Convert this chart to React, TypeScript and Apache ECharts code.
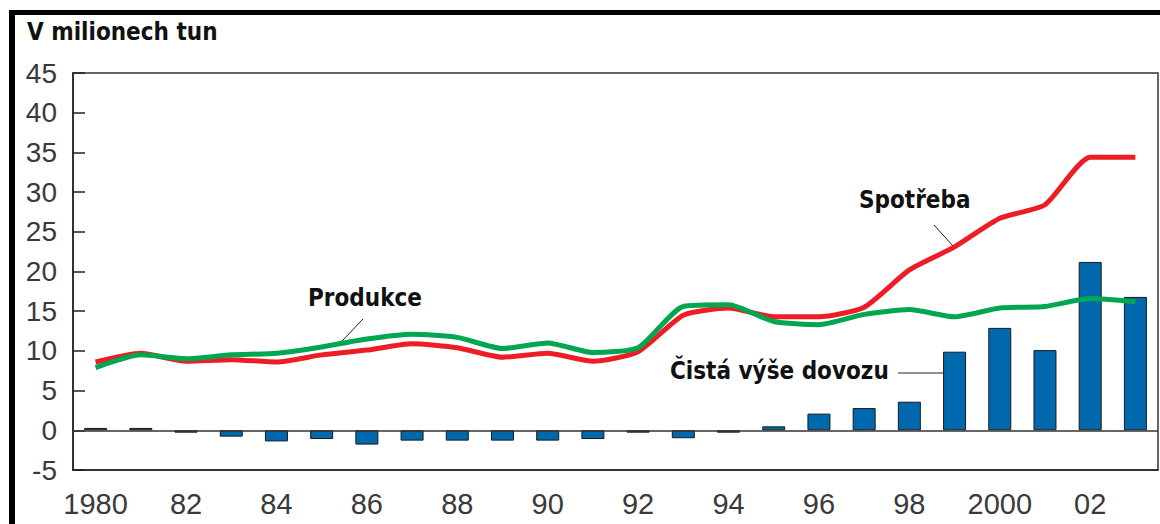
import React, { useEffect, useRef } from "react";
import * as echarts from "echarts";

const years = [
  "1980", "1981", "1982", "1983", "1984", "1985", "1986", "1987", "1988", "1989", "1990", "1991",
  "1992", "1993", "1994", "1995", "1996", "1997", "1998", "1999", "2000", "2001", "2002", "2003",
];
const xTickLabels = [
  "1980", "", "82", "", "84", "", "86", "", "88", "", "90", "",
  "92", "", "94", "", "96", "", "98", "", "2000", "", "02", "",
];
const spotreba = [
  8.6, 9.7, 8.7, 8.9, 8.6, 9.5, 10.1, 10.9, 10.4, 9.2, 9.7, 8.7,
  9.9, 14.5, 15.4, 14.3, 14.3, 15.5, 20.2, 23.1, 26.7, 28.4, 34.4, 34.4,
];
const produkce = [
  7.9, 9.5, 9.0, 9.5, 9.7, 10.5, 11.5, 12.1, 11.7, 10.3, 11.0, 9.8,
  10.4, 15.6, 15.8, 13.7, 13.3, 14.6, 15.2, 14.3, 15.4, 15.6, 16.6, 16.2,
];
const dovoz = [
  0.3, 0.3, -0.3, -0.8, -1.4, -1.1, -1.8, -1.3, -1.3, -1.3, -1.3, -1.1,
  -0.3, -1.0, -0.3, 0.5, 2.1, 2.8, 3.6, 9.9, 12.9, 10.1, 21.2, 16.8,
];
const yMin = -5;
const yMax = 45;
const yStep = 5;

const titleText = "V milionech tun";
const labelProdukce = "Produkce";
const labelSpotreba = "Spotřeba";
const labelDovoz = "Čistá výše dovozu";

const boldFont = "'Liberation Sans Narrow', 'DejaVu Sans Condensed', 'Liberation Sans', sans-serif";
const tickFont = "'Liberation Sans', Arial, sans-serif";

export default function App() {
  const ref = useRef<HTMLDivElement>(null);
  useEffect(() => {
    if (!ref.current) return;
    const chart = echarts.init(ref.current, null, { renderer: "svg" });
    chart.setOption({
      animation: false,
      backgroundColor: "#ffffff",
      grid: {
        left: 73,
        top: 73,
        right: 2,
        bottom: 54,
        show: true,
        borderColor: "#333",
        borderWidth: 1.5,
        backgroundColor: "transparent",
      },
      xAxis: {
        type: "category",
        data: years,
        boundaryGap: true,
        axisLine: { onZero: false, lineStyle: { color: "#222", width: 1.5 } },
        axisTick: { alignWithLabel: true, length: 15, lineStyle: { color: "#222", width: 1.5 } },
        axisLabel: {
          interval: 0,
          margin: 19,
          color: "#3a3a3a",
          fontFamily: tickFont,
          fontSize: 29,
          formatter: (_v: string, i: number) => xTickLabels[i],
        },
        splitLine: { show: false },
      },
      yAxis: {
        type: "value",
        min: yMin,
        max: yMax,
        interval: yStep,
        axisLine: { show: true, lineStyle: { color: "#222", width: 1.5 } },
        axisTick: { show: true, inside: true, length: 12, lineStyle: { color: "#222", width: 1.5 } },
        axisLabel: {
          margin: 16,
          color: "#3a3a3a",
          fontFamily: tickFont,
          fontSize: 28,
        },
        splitLine: { show: false },
      },
      series: [
        {
          type: "bar",
          name: labelDovoz,
          data: dovoz,
          barWidth: 23,
          itemStyle: { color: "#0068ad", borderColor: "#1a1a1a", borderWidth: 1 },
          markLine: {
            silent: true,
            symbol: "none",
            label: { show: false },
            lineStyle: { color: "#333", width: 1.5, type: "solid" },
            data: [{ yAxis: 0 }],
          },
          z: 2,
        },
        {
          type: "line",
          name: labelSpotreba,
          data: spotreba,
          smooth: 0.2,
          symbol: "none",
          lineStyle: { color: "#ee1c25", width: 5 },
          z: 3,
        },
        {
          type: "line",
          name: labelProdukce,
          data: produkce,
          smooth: 0.2,
          symbol: "none",
          lineStyle: { color: "#00a650", width: 5 },
          z: 4,
        },
      ],
      graphic: [
        { type: "rect", shape: { x: 9, y: 10, width: 1151, height: 5 }, style: { fill: "#000" }, z: 10 },
        { type: "rect", shape: { x: 9, y: 10, width: 6, height: 514 }, style: { fill: "#000" }, z: 10 },
        {
          type: "text",
          x: 27,
          y: 32,
          style: { text: titleText, font: `bold 24px ${boldFont}`, fill: "#111", verticalAlign: "middle", align: "left" },
          z: 10,
        },
        {
          type: "text",
          x: 308,
          y: 298,
          style: { text: labelProdukce, font: `bold 24px ${boldFont}`, fill: "#111", verticalAlign: "middle", align: "left" },
          z: 10,
        },
        { type: "line", shape: { x1: 363, y1: 319, x2: 342, y2: 341 }, style: { stroke: "#222", lineWidth: 1 }, z: 10 },
        {
          type: "text",
          x: 859,
          y: 200,
          style: { text: labelSpotreba, font: `bold 24px ${boldFont}`, fill: "#111", verticalAlign: "middle", align: "left" },
          z: 10,
        },
        { type: "line", shape: { x1: 934, y1: 225, x2: 953, y2: 246 }, style: { stroke: "#222", lineWidth: 1 }, z: 10 },
        {
          type: "text",
          x: 670,
          y: 371,
          style: { text: labelDovoz, font: `bold 24px ${boldFont}`, fill: "#111", verticalAlign: "middle", align: "left" },
          z: 10,
        },
        { type: "line", shape: { x1: 898, y1: 373, x2: 943, y2: 373 }, style: { stroke: "#222", lineWidth: 1 }, z: 10 },
      ],
    });
    return () => chart.dispose();
  }, []);
  return (
    <div
      ref={ref}
      style={{ position: "fixed", left: 0, top: 0, width: 1160, height: 524, background: "#fff" }}
    />
  );
}
